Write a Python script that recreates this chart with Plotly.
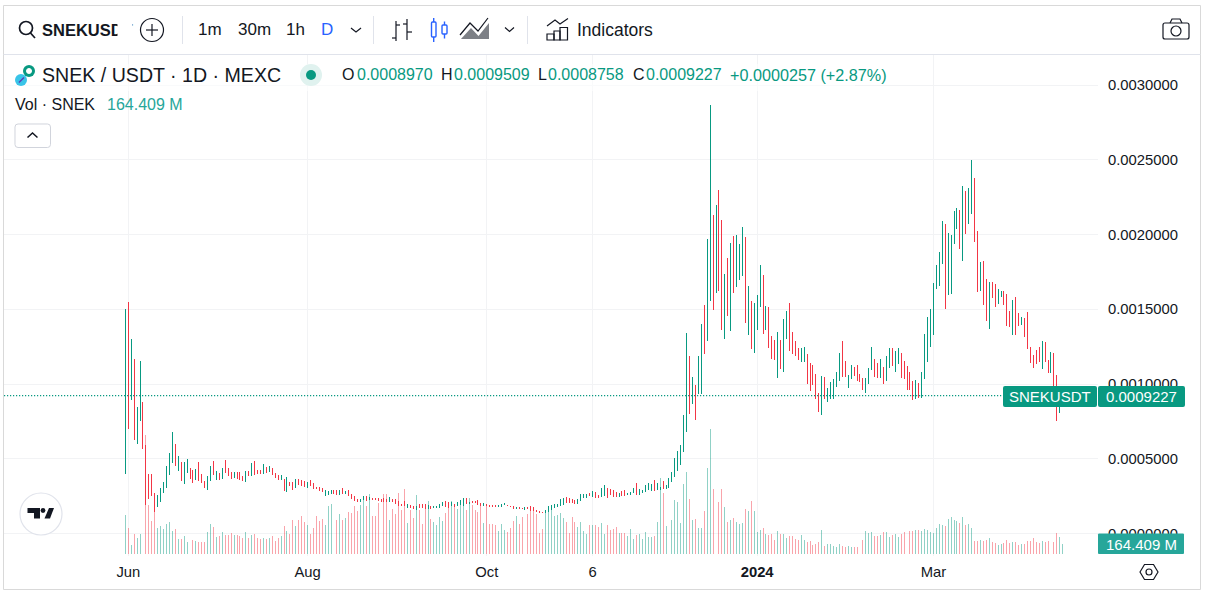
import numpy as np
import pandas as pd
import plotly.graph_objects as go

# daily bars, first one is 2023-05-31
start_date = "2023-05-31"

# prices in units of 0.0001 USDT
highs = [
    15.0, 15.5, 13.0, 11.67, 8.46, 11.54, 8.8, 5.92, 3.98, 3.98,
    2.71, 2.58, 3.04, 3.44, 4.52, 5.38, 6.79, 5.99, 5.18, 4.78,
    4.78, 4.98, 4.38, 4.25, 4.31, 4.78, 3.98, 3.51, 3.85, 4.52,
    4.85, 4.18, 4.05, 4.38, 4.92, 4.38, 4.11, 4.11, 4.11, 4.11,
    3.85, 4.18, 4.18, 4.72, 4.85, 4.25, 4.25, 4.65, 4.45, 4.52,
    4.38, 4.05, 3.91, 3.91, 3.65, 3.78, 3.44, 3.44, 3.65, 3.65,
    3.58, 3.51, 3.44, 3.58, 3.38, 3.11, 3.11, 3.04, 2.91, 2.84,
    2.91, 2.91, 2.91, 2.91, 3.04, 2.84, 2.91, 2.64, 2.51, 2.31,
    2.31, 2.51, 2.51, 2.44, 2.37, 2.37, 2.37, 2.31, 2.37, 2.31,
    2.44, 2.31, 2.31, 2.17, 1.97, 2.17, 1.97, 1.91, 1.84, 1.84,
    1.97, 1.97, 1.97, 1.91, 1.84, 1.84, 1.84, 1.97, 2.11, 2.17,
    2.11, 2.11, 1.97, 2.11, 2.24, 2.37, 2.37, 2.11, 2.17, 2.17,
    2.24, 2.04, 2.04, 1.97, 1.91, 1.91, 1.91, 1.91, 1.97, 2.04,
    1.91, 1.84, 1.84, 1.77, 1.77, 1.71, 1.77, 1.77, 1.84, 1.77,
    1.57, 1.51, 1.44, 1.57, 1.84, 1.91, 1.97, 1.97, 2.31, 2.37,
    2.44, 2.37, 2.31, 2.24, 2.31, 2.64, 2.64, 2.64, 2.71, 2.84,
    2.78, 2.58, 3.04, 3.24, 3.04, 2.98, 2.91, 2.78, 2.71, 2.84,
    2.91, 2.71, 2.78, 3.04, 3.38, 2.98, 2.91, 3.24, 3.38, 3.31,
    3.58, 3.38, 3.11, 3.51, 3.24, 3.71, 4.11, 5.05, 5.52, 5.92,
    7.93, 13.41, 11.87, 10.47, 9.93, 11.87, 14.01, 15.28, 19.69, 28.66,
    21.3, 21.97, 22.97, 20.97, 17.36, 18.43, 19.43, 19.9, 19.97, 19.37,
    20.5, 19.83, 16.56, 15.55, 15.42, 15.95, 17.96, 17.29, 15.22, 15.15,
    13.21, 12.94, 13.48, 12.94, 14.35, 14.88, 15.42, 13.48, 12.88, 12.41,
    12.41, 12.48, 12.0, 11.4, 11.27, 10.67, 9.4, 10.54, 10.47, 9.73,
    10.13, 10.33, 10.8, 12.07, 12.88, 11.54, 10.6, 11.27, 11.13, 11.27,
    10.67, 10.4, 10.4, 11.07, 12.47, 11.67, 11.4, 11.67, 11.13, 11.87,
    12.41, 12.41, 12.2, 12.41, 12.07, 11.54, 11.2, 10.8, 10.2, 10.27,
    10.07, 10.8, 13.34, 14.48, 15.01, 16.76, 17.96, 18.83, 20.9, 20.7,
    20.1, 19.97, 21.57, 21.77, 21.63, 23.25, 22.91, 23.11, 24.98, 23.78,
    20.23, 18.16, 18.23, 17.02, 16.82, 16.82, 16.69, 16.35, 16.22, 16.22,
    16.02, 14.88, 15.62, 15.82, 14.75, 14.48, 14.42, 14.82, 12.47, 11.94,
    12.27, 12.47, 12.88, 12.81, 11.6, 12.14, 12.07, 10.6, 9.5, 9.509,
]
lows = [
    3.96, 7.0, 8.93, 6.25, 5.99, 7.53, 5.67, 1.91, 2.31, 2.51,
    1.44, 1.77, 2.11, 2.71, 3.04, 3.91, 4.72, 4.52, 4.18, 3.51,
    3.31, 4.05, 3.65, 3.38, 3.58, 3.51, 3.38, 3.04, 2.91, 3.51,
    3.91, 3.58, 3.58, 3.65, 4.05, 3.85, 3.65, 3.71, 3.65, 3.58,
    3.51, 3.44, 3.85, 3.85, 3.91, 3.98, 3.98, 3.98, 4.05, 4.11,
    3.91, 3.71, 3.58, 3.58, 2.84, 2.78, 3.18, 2.91, 3.04, 3.24,
    3.18, 3.11, 3.04, 3.18, 2.98, 2.98, 2.84, 2.78, 2.51, 2.58,
    2.64, 2.64, 2.58, 2.58, 2.64, 2.64, 2.51, 2.31, 2.17, 2.11,
    2.11, 2.24, 2.17, 2.24, 2.24, 2.24, 2.17, 2.11, 2.11, 2.11,
    2.11, 2.11, 1.97, 1.84, 1.84, 1.84, 1.71, 1.71, 1.64, 1.57,
    1.71, 1.71, 1.64, 1.64, 1.64, 1.71, 1.71, 1.71, 1.84, 1.77,
    1.71, 1.84, 1.77, 1.84, 1.91, 1.84, 1.97, 1.97, 2.04, 2.04,
    1.91, 1.84, 1.84, 1.84, 1.77, 1.77, 1.77, 1.77, 1.77, 1.91,
    1.84, 1.77, 1.64, 1.64, 1.64, 1.64, 1.57, 1.64, 1.51, 1.51,
    1.44, 1.37, 1.37, 1.37, 1.44, 1.57, 1.71, 1.77, 1.84, 1.91,
    2.04, 2.04, 2.04, 1.97, 1.97, 2.17, 2.37, 2.37, 2.51, 2.44,
    2.37, 2.37, 2.44, 2.51, 2.37, 2.58, 2.44, 2.44, 2.44, 2.51,
    2.51, 2.58, 2.58, 2.71, 2.58, 2.58, 2.71, 2.78, 2.91, 2.84,
    2.84, 2.91, 2.91, 2.98, 2.98, 3.04, 3.44, 3.78, 4.18, 4.58,
    5.45, 6.79, 7.99, 8.66, 7.59, 9.33, 9.33, 12.0, 12.88, 15.55,
    14.95, 16.09, 16.22, 13.61, 13.0, 14.55, 13.55, 16.09, 16.49, 16.96,
    17.22, 14.08, 13.28, 12.34, 12.07, 13.61, 15.15, 13.34, 13.61, 12.41,
    11.67, 11.6, 10.4, 11.0, 10.8, 13.0, 12.2, 12.0, 11.87, 11.6,
    11.47, 11.47, 10.0, 9.53, 9.93, 9.0, 8.13, 7.93, 9.0, 8.8,
    9.0, 9.0, 9.8, 10.2, 10.47, 10.47, 9.73, 10.33, 10.54, 10.2,
    10.13, 9.6, 9.4, 10.0, 10.94, 10.47, 10.4, 10.4, 10.0, 10.2,
    11.07, 11.2, 10.8, 11.34, 10.4, 10.33, 9.6, 9.6, 8.93, 9.0,
    9.07, 9.07, 10.33, 11.47, 12.47, 13.28, 16.35, 16.55, 18.03, 15.01,
    15.95, 16.02, 19.37, 20.37, 19.03, 18.23, 20.03, 20.7, 21.37, 19.5,
    16.15, 16.22, 15.28, 14.21, 13.68, 15.75, 15.15, 15.35, 15.82, 15.28,
    13.88, 13.81, 13.28, 13.28, 13.88, 13.95, 13.15, 12.34, 11.4, 11.07,
    11.34, 11.47, 11.0, 11.47, 10.74, 10.74, 9.87, 7.53, 8.06, 8.758,
]
# G closed up, R closed down
direction = (
    "GRGRGGRRRR" "RGGGGGGRGR" "GGRRGRRRGG" "RGRGRRRGRR" "RGRGRRRGRG"
    "RRRGRGRRGR" "RRGRRRRRGG" "GRRGRGRRRR" "GGRGRRRRRR" "GRRRRRGRRG"
    "RRRGRGGGGR" "RGRGGGRGRR" "RRGRRRRGGG" "RRRGRRGRRR" "RRRGGGGGGG"
    "RRRRGGGGRG" "RRGGRRRRGR" "RGGGRGGGGG" "RGGRGGGGGG" "GGRGRGGRGG"
    "RGRRGRGRGG" "GRGRGGGRGR" "RRGRGGRRRR" "GGRRRRRGRG" "GGGGRRGGRR"
    "RRGGGRRGRG" "GRGGRRRRRG" "RGGGGGGGGR" "GGGGRGRGGR" "RGRRGRRGGR"
    "RRGRRGRRRR" "RRGRRGRRGG"
)
# volume per day, millions of SNEK
volumes = [
    641, 427, 148, 329, 263, 329, 411, 1956, 806, 543,
    806, 427, 460, 411, 493, 526, 378, 411, 247, 247,
    296, 197, 263, 230, 214, 197, 197, 197, 362, 493,
    444, 279, 296, 362, 312, 312, 345, 312, 312, 296,
    263, 362, 263, 312, 329, 263, 247, 263, 247, 263,
    296, 214, 263, 296, 460, 378, 329, 559, 460, 559,
    625, 526, 477, 329, 427, 625, 543, 575, 477, 789,
    822, 723, 559, 658, 559, 592, 690, 674, 789, 707,
    806, 954, 789, 986, 625, 625, 833, 608, 986, 986,
    559, 740, 658, 1003, 723, 1069, 510, 723, 592, 970,
    723, 493, 822, 871, 575, 526, 477, 608, 543, 674,
    822, 871, 773, 740, 838, 888, 723, 921, 806, 723,
    690, 838, 510, 822, 493, 493, 477, 378, 493, 395,
    362, 427, 543, 625, 493, 608, 674, 658, 707, 707,
    658, 345, 411, 674, 789, 723, 625, 641, 674, 592,
    526, 345, 608, 526, 444, 526, 378, 329, 477, 477,
    477, 444, 510, 329, 477, 395, 411, 444, 345, 345,
    345, 296, 411, 247, 312, 329, 247, 362, 279, 279,
    296, 526, 1249, 1003, 460, 904, 559, 888, 855, 510,
    1151, 1348, 904, 559, 575, 427, 427, 707, 1414, 2055,
    1069, 888, 855, 1069, 773, 526, 559, 592, 526, 493,
    510, 740, 707, 871, 707, 362, 395, 427, 329, 312,
    329, 230, 378, 329, 329, 263, 296, 296, 247, 230,
    312, 230, 197, 214, 148, 164, 197, 395, 132, 164,
    164, 132, 115, 164, 132, 115, 132, 115, 115, 115,
    115, 230, 378, 345, 362, 296, 296, 312, 362, 362,
    279, 312, 329, 279, 329, 362, 329, 378, 378, 395,
    395, 378, 411, 395, 362, 345, 427, 493, 477, 460,
    575, 608, 559, 543, 510, 608, 477, 493, 427, 214,
    214, 230, 214, 230, 263, 197, 181, 148, 164, 181,
    230, 181, 197, 197, 148, 164, 164, 214, 214, 263,
    197, 181, 214, 197, 214, 181, 197, 345, 279, 164,
]

tick_dates = ["2023-06-01", "2023-08-01", "2023-10-01", "2023-11-06", "2024-01-01", "2024-03-01"]
tick_labels = ["Jun", "Aug", "Oct", "6", "<b>2024</b>", "Mar"]
price_ticks = [0, 0.0005, 0.001, 0.0015, 0.002, 0.0025, 0.003]
last_close = 0.0009227

GREEN = "#089981"
RED = "#F23645"
VOL_TEAL = "#26A69A"
INK = "#131722"
GRID = "#F2F3F5"
BORDER = "#E0E3EB"
FONT = "Liberation Sans"

dates = pd.date_range(start_date, periods=len(highs), freq="D")
high_arr = np.array(highs) * 1e-4
low_arr = np.array(lows) * 1e-4
up = np.array([d == "G" for d in direction])
opens = np.where(up, low_arr, high_arr)
closes = np.where(up, high_arr, low_arr)
vol_colors = ["rgba(8,153,129,0.45)" if u else "rgba(242,54,69,0.45)" for u in up]

fig = go.Figure()
fig.add_trace(go.Bar(x=dates, y=volumes, marker=dict(color=vol_colors, line_width=0),
                     width=0.33 * 86400000, yaxis="y", showlegend=False))
fig.add_trace(go.Ohlc(x=dates, open=opens, high=high_arr, low=low_arr, close=closes,
                      tickwidth=0, yaxis="y2", showlegend=False,
                      increasing=dict(line=dict(color=GREEN, width=1)),
                      decreasing=dict(line=dict(color=RED, width=1))))

# plot area in window pixels
PL, PR, PT, PB = 4, 1098, 55, 556


def fx(px):
    return (px - PL) / (PR - PL)


def fy(py):
    return 1 - (py - PT) / (PB - PT)


def path(points, close=False):
    s = "M " + " L ".join(f"{fx(x):.5f},{fy(y):.5f}" for x, y in points)
    return s + (" Z" if close else "")


def rrect(x0, y0, x1, y1, r):
    return (f"M {fx(x0 + r):.5f},{fy(y0):.5f} L {fx(x1 - r):.5f},{fy(y0):.5f} "
            f"Q {fx(x1):.5f},{fy(y0):.5f} {fx(x1):.5f},{fy(y0 + r):.5f} "
            f"L {fx(x1):.5f},{fy(y1 - r):.5f} Q {fx(x1):.5f},{fy(y1):.5f} {fx(x1 - r):.5f},{fy(y1):.5f} "
            f"L {fx(x0 + r):.5f},{fy(y1):.5f} Q {fx(x0):.5f},{fy(y1):.5f} {fx(x0):.5f},{fy(y1 - r):.5f} "
            f"L {fx(x0):.5f},{fy(y0 + r):.5f} Q {fx(x0):.5f},{fy(y0):.5f} {fx(x0 + r):.5f},{fy(y0):.5f} Z")


shapes = []


def add_path(d, color=INK, width=1.2, fill=None):
    shapes.append(dict(type="path", xref="paper", yref="paper", path=d, layer="above",
                       line=dict(color=color, width=width), fillcolor=fill))


def add_line(points, color=INK, width=1.2, fill=None):
    add_path(path(points, close=fill is not None), color, width, fill)


def add_circle(cx, cy, r, color=INK, width=1.2, fill=None):
    shapes.append(dict(type="circle", xref="paper", yref="paper", layer="above",
                       x0=fx(cx - r), x1=fx(cx + r), y0=fy(cy + r), y1=fy(cy - r),
                       line=dict(color=color, width=width), fillcolor=fill))


labels = []


def add_text(x, y, text, size=15, color=INK, anchor="left"):
    # annotations carry about 2px of padding
    if anchor == "left":
        x -= 2
    labels.append(dict(x=fx(x), y=fy(y), xref="paper", yref="paper", text=text, showarrow=False,
                       xanchor=anchor, yanchor="middle", align=anchor,
                       font=dict(family=FONT, size=size, color=color)))


# last price line
shapes.append(dict(type="line", xref="paper", yref="y2", x0=0, x1=fx(1003), y0=last_close, y1=last_close,
                   line=dict(color=GREEN, width=1.3, dash="1.2px,1.8px"), layer="above"))

# outer frame and toolbar
shapes.append(dict(type="rect", xref="paper", yref="paper", x0=fx(3.5), x1=fx(1200.5), y0=fy(589.5), y1=fy(5.5),
                   line=dict(color="#D9D9D9", width=1), layer="below"))
add_line([(3.5, 54.5), (1200.5, 54.5)], BORDER, 1)
for sep_x in [182.5, 373.5, 527.5]:
    add_line([(sep_x, 16), (sep_x, 44)], BORDER, 1)

# search
add_circle(26, 28, 6.5, INK, 1.7)
add_line([(30.5, 33), (35, 38)], INK, 1.7)
add_text(42, 30, "<b>SNEKUSDT</b>", 16.5)
labels.append(dict(x=fx(117), y=fy(30), xref="paper", yref="paper", text=" ", showarrow=False, xanchor="left",
                   yanchor="middle", width=14, height=26, bgcolor="#FFFFFF", borderpad=0))
add_circle(152, 30, 11.5)
add_line([(146, 30), (158, 30)])
add_line([(152, 24), (152, 36)])

add_text(210, 29.5, "1m", 17, anchor="center")
add_text(254, 29.5, "30m", 17, anchor="center")
add_text(295.5, 29.5, "1h", 17, anchor="center")
add_text(327, 29.5, "D", 17, "#2962FF", anchor="center")
add_line([(351, 28), (356, 32), (361, 28)])

# bar icon
add_line([(396, 21), (396, 41)])
add_line([(392, 38), (396, 38)])
add_line([(396, 25), (400, 25)])
add_line([(407, 19), (407, 40)])
add_line([(403, 24), (407, 24)])
add_line([(407, 32), (412, 32)])
# candle icon
add_path(rrect(431.5, 22, 436, 37, 1), "#2962FF", 1.4)
add_line([(433.7, 18), (433.7, 22)], "#2962FF", 1.4)
add_line([(433.7, 37), (433.7, 42)], "#2962FF", 1.4)
add_path(rrect(442, 25, 447, 34, 1), "#2962FF", 1.4)
add_line([(444.5, 21.5), (444.5, 25)], "#2962FF", 1.4)
add_line([(444.5, 34), (444.5, 38.5)], "#2962FF", 1.4)
# area icon
add_line([(461, 39), (471, 28), (478.5, 36), (489, 23), (489, 39)], "rgba(0,0,0,0)", 0, "rgba(19,23,34,0.55)")
add_line([(460, 35), (470, 23), (478, 31), (488, 18)], INK, 1.2)
add_line([(505, 27.5), (509.5, 31.5), (514, 27.5)])
# indicators icon
add_line([(547, 26), (555, 20), (560, 24), (568, 18.5)])
add_path(rrect(547, 34, 554, 40, 0))
add_path(rrect(554, 31, 560, 40, 0))
add_path(rrect(560, 27.5, 567.5, 40, 0))
add_text(577, 29.5, "Indicators", 17.5)
# camera
add_path(rrect(1163, 23, 1189, 39, 2))
add_line([(1170, 23), (1172, 19), (1180, 19), (1182, 23)])
add_circle(1176, 31, 5)

# legend rows
shapes.append(dict(type="rect", xref="paper", yref="paper", x0=fx(4), x1=fx(855), y0=fy(91), y1=fy(64),
                   line_width=0, fillcolor="rgba(255,255,255,0.55)", layer="above"))
add_circle(29, 71, 6, GREEN, 0, GREEN)
add_circle(29, 71, 2.5, "#FFFFFF", 1, "#FFFFFF")
add_circle(21, 80, 6, "#39C4E8", 0, "#39C4E8")
add_line([(19, 82.5), (24, 77.5)], "#5B3FB5", 1.5)
add_text(42, 75, "SNEK / USDT · 1D · MEXC", 19.6)
add_circle(311, 75, 11, "#E0F2EF", 0, "#E0F2EF")
add_circle(311, 75, 5, GREEN, 0, GREEN)
for letter, lx, value, vx in [("O", 342, "0.0008970", 357), ("H", 441, "0.0009509", 454),
                              ("L", 538, "0.0008758", 548), ("C", 633, "0.0009227", 646)]:
    add_text(lx, 75, letter, 16)
    add_text(vx, 75, value, 16, GREEN)
add_text(730, 75, "+0.0000257 (+2.87%)", 16.2, GREEN)
add_text(15, 105, "Vol · SNEK", 16)
add_text(107, 105, "164.409 M", 16, VOL_TEAL)
add_path(rrect(15, 124, 50.5, 147.5, 3), "#D1D4DC", 1, "#FFFFFF")
add_line([(27.5, 137.5), (32.5, 133), (37.5, 137.5)], INK, 1.5)

# price labels
add_path(rrect(1003, 386, 1097, 407, 2), GREEN, 0, GREEN)
add_path(rrect(1098, 386, 1185, 407, 2), GREEN, 0, GREEN)
add_text(1049.5, 396.5, "SNEKUSDT", 15, "#FFFFFF", anchor="center")
add_text(1141.5, 396.5, "0.0009227", 15, "#FFFFFF", anchor="center")
add_path(rrect(1098, 533.5, 1184, 554, 1), VOL_TEAL, 0, VOL_TEAL)
add_text(1141, 544, "164.409 M", 15, "#FFFFFF", anchor="center")

# settings hexagon
add_line([(1140, 572), (1144.5, 564.5), (1153.5, 564.5), (1158, 572), (1153.5, 579.5), (1144.5, 579.5)],
         INK, 1.2, "rgba(0,0,0,0)")
add_circle(1149, 572, 3)

# logo
add_circle(41, 514, 21, BORDER, 1.2, "#FFFFFF")
add_line([(27.5, 508), (40, 508), (40, 518.5), (34, 518.5), (34, 513), (27.5, 513)], INK, 0, INK)
add_circle(43, 510.5, 2.4, INK, 0, INK)
add_line([(44.5, 518.5), (50, 518.5), (54, 508), (49, 508)], INK, 0, INK)

fig.update_layout(
    width=1205, height=595,
    margin=dict(l=PL, r=1205 - PR, t=PT, b=595 - PB, autoexpand=False),
    paper_bgcolor="#FFFFFF", plot_bgcolor="#FFFFFF",
    font=dict(family=FONT, size=14.8, color=INK),
    bargap=0, shapes=shapes, annotations=labels,
    xaxis=dict(type="date", rangeslider_visible=False,
               range=[pd.Timestamp("2023-06-01") - pd.Timedelta(days=42.3),
                      pd.Timestamp("2023-06-01") + pd.Timedelta(days=330)],
               tickvals=tick_dates, ticktext=tick_labels, tickangle=0,
               ticks="outside", ticklen=2, tickcolor="#FFFFFF",
               showgrid=True, gridcolor=GRID, gridwidth=1, zeroline=False, showline=False),
    yaxis=dict(range=[-33, 8204], visible=False, showgrid=False, zeroline=False),
    yaxis2=dict(overlaying="y", side="right", range=[-0.0001505, 0.0032007],
                tickvals=price_ticks, tickformat=".7f",
                ticks="outside", ticklen=6, tickcolor="#FFFFFF",
                showgrid=True, gridcolor=GRID, gridwidth=1, zeroline=False, showline=False),
)

post = ("document.body.style.margin='0';document.body.style.overflow='hidden';"
        "document.querySelectorAll('.trace.ohlc path').forEach(function(p){p.style.shapeRendering='crispEdges';});")
fig.write_html("out.html", config={"displayModeBar": False}, post_script=post)
